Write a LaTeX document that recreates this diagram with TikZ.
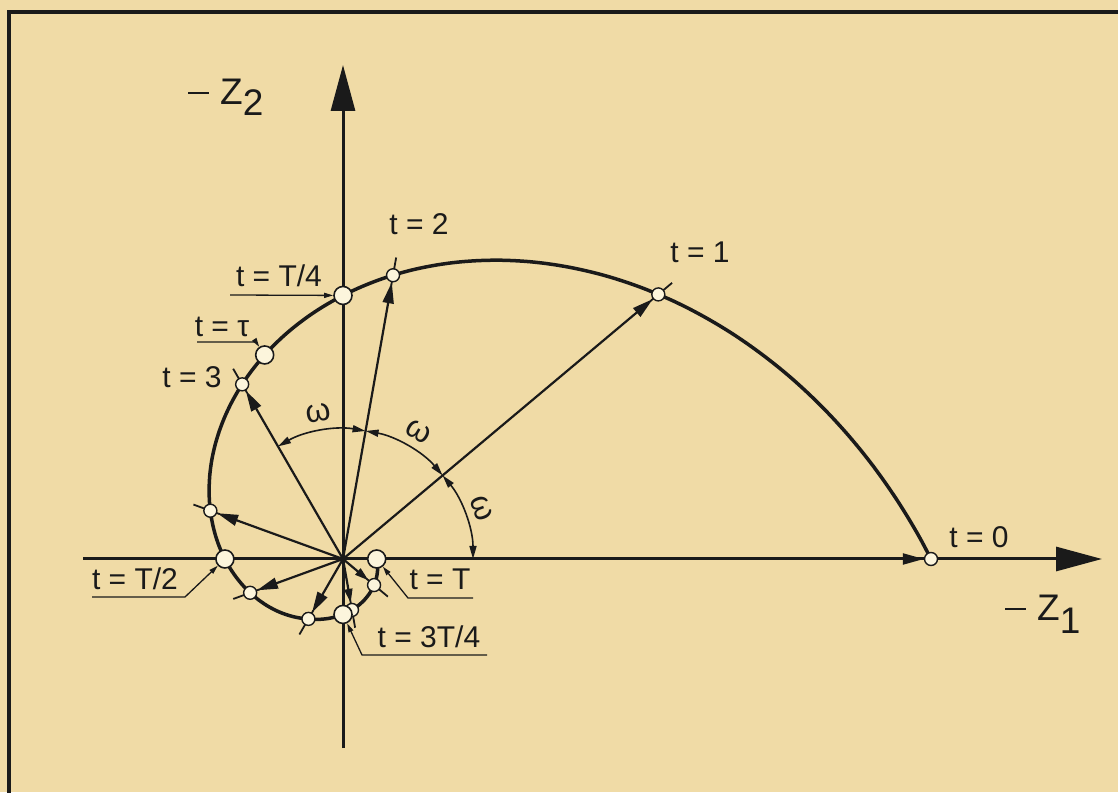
\documentclass[tikz,border=0pt]{standalone}
\usepackage{fontspec}
\setmainfont{Liberation Sans}
\usetikzlibrary{arrows.meta,calc}
\definecolor{bg}{RGB}{240,219,166}
\definecolor{ink}{RGB}{26,26,26}
\definecolor{dotfill}{RGB}{252,245,220}
\pgfmathdeclarefunction{spr}{1}{\pgfmathparse{588*pow(0.7,#1/40)+10*max(0,(#1-240)/120)}}
\newcommand{\mminus}{\rule[10.5pt]{21pt}{2.6pt}\hspace{11pt}}
\begin{document}
\begin{tikzpicture}[x=1pt,y=1pt,
  axis/.style={ink, line width=3pt, -{Triangle[length=46pt,width=24pt]}},
  spiral/.style={ink, line width=3.5pt},
  ray/.style={ink, line width=2.2pt, -{Triangle[length=21pt,width=11pt]}},
  sray/.style={ink, line width=2.2pt, -{Triangle[length=14pt,width=8pt]}},
  dim/.style={ink, line width=1.6pt, {Triangle[length=13pt,width=7pt]}-{Triangle[length=13pt,width=7pt]}},
  leader/.style={ink, line width=1.3pt, -{Triangle[length=9pt,width=5pt]}},
  tickmark/.style={ink, line width=1.8pt},
  sdot/.style={circle, draw=ink, line width=1.4pt, fill=dotfill, minimum size=13pt, inner sep=0pt},
  bdot/.style={circle, draw=ink, line width=1.6pt, fill=dotfill, minimum size=18pt, inner sep=0pt},
  lbl/.style={font=\fontsize{30}{32}\selectfont, text=ink, inner sep=0pt, anchor=base},
  omg/.style={font=\fontsize{32}{34}\selectfont, text=ink, inner sep=0pt},
  axlbl/.style={font=\fontsize{37}{40}\selectfont, text=ink, inner sep=0pt, anchor=base west},
]
\useasboundingbox (0,0) rectangle (1118,792);
\fill[bg] (0,0) rectangle (1118,792);
\draw[ink, line width=4.5pt] (9,-5) -- (9,780) -- (1125,780);

\coordinate (O) at (343,233);
\coordinate (xs) at (83,233);
\coordinate (xe) at (1102,233);
\coordinate (ys) at (343,44);
\coordinate (ye) at (343,727);
\draw[axis] (xs) -- (xe);
\draw[axis] (ys) -- (ye);

% spiral
\begin{scope}[shift={(O)}]
  \draw[spiral] plot[domain=0:360, samples=181, smooth, variable=\a] (\a:{spr(\a)});
\end{scope}

% points
\foreach \t in {0,...,8}{
  \coordinate (C\t) at ([shift={(O)}]{40*\t}:{spr(40*\t)});
}
\foreach \t in {1,...,8}{
  \draw[tickmark] ($(C\t)!-18pt!(O)$) -- ($(C\t)!10pt!(O)$);
}
\foreach \t in {0,...,8}{
  \node[sdot] (P\t) at (C\t) {};
}
\foreach \t in {0,...,6}{
  \draw[ray] (O) -- (P\t);
}
\draw[sray] (O) -- (P7);
\draw[sray] (O) -- (P8);

\node[bdot] (QT4) at ([shift={(O)}]90:{spr(90)}) {};
\node[bdot] (Qtau) at ([shift={(O)}]111:{spr(111)}) {};
\node[bdot] (QT2) at ([shift={(O)}]180:{spr(180)}) {};
\node[bdot] (Q3T4) at ([shift={(O)}]270:{spr(270)}) {};
\node[bdot] (QT) at ([shift={(O)}]360:{spr(360)}) {};

% omega dimension arcs
\draw[dim] ([shift={(O)}]0:130) arc[start angle=0,end angle=40,radius=130];
\draw[dim] ([shift={(O)}]40:130) arc[start angle=40,end angle=80,radius=130];
\draw[dim] ([shift={(O)}]80:130) arc[start angle=80,end angle=120,radius=130];
\node[omg, rotate=-70] (w1) at ([shift={(O)}]20:148) {ω};
\node[omg, rotate=-30.5] (w2) at ([shift={(O)}]59.5:148) {ω};
\node[omg, rotate=9.5] (w3) at ([shift={(O)}]99.5:148) {ω};

% labels
\node[lbl] (l0) at (979,244) {t = 0};
\node[lbl] (l1) at (700,529) {t = 1};
\node[lbl] (l2) at (419,557) {t = 2};
\node[lbl] (l3) at (192,404) {t = 3};
\node[lbl] (lT4) at (279,505) {t = T/4};
\node[lbl] (ltau) at (222,455) {t = τ};
\node[lbl] (lT2) at (135,202) {t = T/2};
\node[lbl] (lT) at (440,202) {t = T};
\node[lbl] (l3T4) at (429,144) {t = 3T/4};

% leaders
\coordinate (a1) at (230,497);
\draw[leader] (a1) -- (QT4);
\coordinate (b1) at (197,450);
\coordinate (b2) at (256,450);
\draw[leader] (b1) -- (b2) -- (Qtau);
\coordinate (c1) at (92,195);
\coordinate (c2) at (185,195);
\draw[leader] (c1) -- (c2) -- (QT2);
\coordinate (d1) at (473,194);
\coordinate (d2) at (408,194);
\draw[leader] (d1) -- (d2) -- (QT);
\coordinate (e1) at (487,137);
\coordinate (e2) at (362,137);
\draw[leader] (e1) -- (e2) -- (Q3T4);

% axis labels
\node[axlbl] (z2) at (188,687) {\mminus Z\raisebox{-11pt}{2}};
\node[axlbl] (z1) at (1005,171) {\mminus Z\raisebox{-13pt}{1}};
\end{tikzpicture}
\end{document}
